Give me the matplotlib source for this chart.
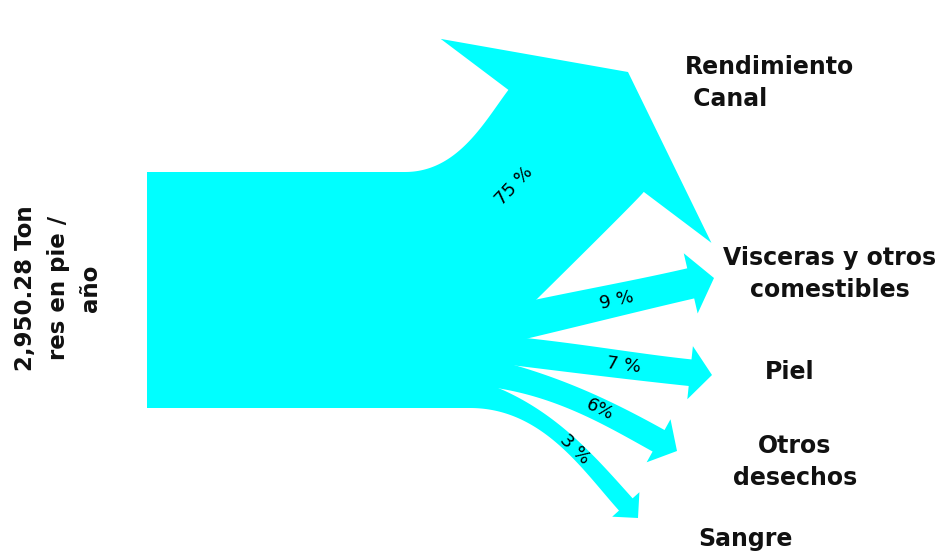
import numpy as np
import matplotlib.pyplot as plt
from matplotlib.patches import Polygon, Rectangle

# datos
entrada = '2,950.28 Ton\nres en pie /\naño'
destinos = ['Rendimiento\n Canal', 'Visceras y otros\ncomestibles', 'Piel', 'Otros\ndesechos', 'Sangre']
porcentajes = [75, 9, 7, 6, 3]
etiquetas_pct = ['75 %', '9 %', '7 %', '6%', '3 %']

# layout (pixel coords, y hacia abajo)
# borde superior / inferior de cada flecha al salir del bloque: (x, y, angulo, k0, k1)
borde_sup = [(405, 172, 0, 0.4, 0.3), (470, 314, 13, 0.4, 0.3), (470, 333, -4, 0.4, 0.3),
             (470, 354, -12, 0.4, 0.3), (470, 378, -16, 0.4, 0.3)]
borde_inf = [(470, 365, 45, 0.05, 0.05), (470, 352, 13, 0.4, 0.3), (470, 360, -7, 0.4, 0.3),
             (470, 385, -4, 0.4, 0.3), (470, 408, 0, 0.4, 0.3)]
puntas = [(628, 72), (714, 278), (712, 375), (677, 451), (638, 518)]
ang_fin = [53, 13, -6, -29, -48]
t_label = [0.58, 0.64, 0.68, 0.65, 0.6]
mezcla = [0.6, 0.5, 0.5, 0.5, 0.5]  # peso del borde superior para la etiqueta
pos_destino = [(685, 83, 'left'), (830, 274, 'center'), (790, 372, 'center'),
               (795, 462, 'center'), (745, 539, 'center')]

color = '#00FFFF'

fig = plt.figure(figsize=(9.39, 5.53), dpi=100)
ax = fig.add_axes([0, 0, 1, 1])
ax.set_xlim(0, 939)
ax.set_ylim(553, 0)
ax.axis('off')


def unit(a):
    return np.array([np.cos(np.radians(a)), -np.sin(np.radians(a))])


def bezier(a, da, b, db, k0, k1, n=80):
    a = np.array(a, float)
    b = np.array(b, float)
    L = np.linalg.norm(b - a)
    p1 = a + k0 * L * da
    p2 = b - k1 * L * db
    t = np.linspace(0, 1, n)[:, None]
    return (1-t)**3*a + 3*(1-t)**2*t*p1 + 3*(1-t)*t**2*p2 + t**3*b


def flecha(sup, inf, tip, a1, w, hl, hw):
    tip = np.array(tip, float)
    d1 = unit(a1)
    n1 = np.array([d1[1], -d1[0]])
    p3 = tip - hl * d1
    izq = bezier(sup[:2], unit(sup[2]), p3 + w/2*n1, d1, sup[3], sup[4])
    der = bezier(inf[:2], unit(inf[2]), p3 - w/2*n1, d1, inf[3], inf[4])
    cabeza = [p3 + hw*n1, tip, p3 - hw*n1]
    poly = np.vstack([izq, cabeza, der[::-1]])
    return poly, izq, der


ax.add_patch(Rectangle((147, 172), 333, 236, color=color, lw=0))

for i, p in enumerate(porcentajes):
    w = 12 + 2.1*p
    hl = 0.45*w + 10
    poly, izq, der = flecha(borde_sup[i], borde_inf[i], puntas[i], ang_fin[i], w, hl, w)
    ax.add_patch(Polygon(poly, closed=True, color=color, lw=0))
    k = int(t_label[i] * (len(izq) - 1))
    m = mezcla[i]
    c = m*izq[k] + (1-m)*der[k]
    d = m*izq[k+1] + (1-m)*der[k+1] - c
    rot = np.degrees(np.arctan2(-d[1], d[0]))
    ax.text(c[0], c[1], etiquetas_pct[i], rotation=rot, rotation_mode='anchor',
            ha='center', va='center', fontsize=13, color='black')
    x, y, ha = pos_destino[i]
    ax.text(x, y, destinos[i], ha=ha, va='center', fontsize=17, fontweight='bold',
            linespacing=1.4, color='#111111')

ax.text(58, 288, entrada, rotation=90, ha='center', va='center', fontsize=16.5,
        fontweight='bold', linespacing=1.55, multialignment='center', color='#111111')

plt.savefig('out.png')
